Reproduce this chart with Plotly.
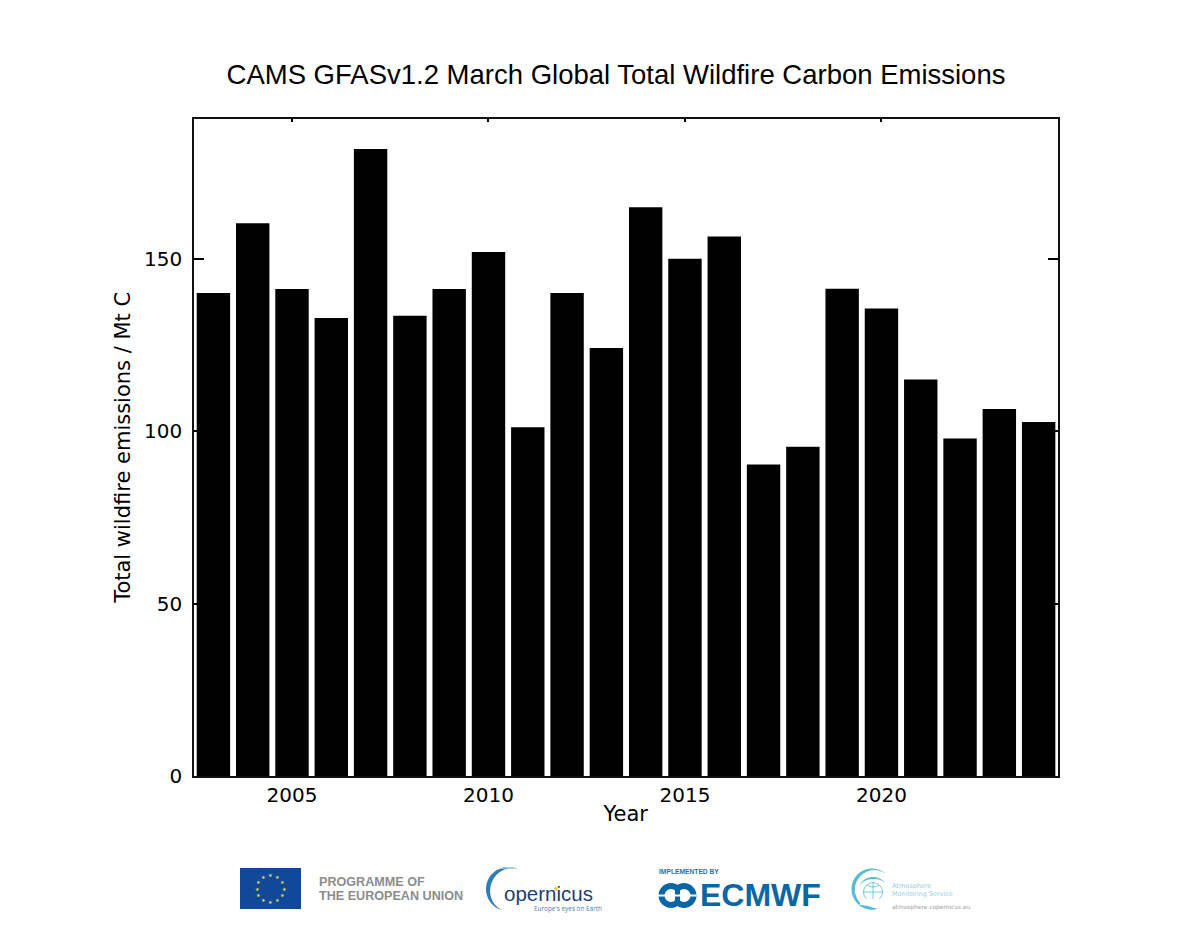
import numpy as np
import plotly.graph_objects as go

W, H = 1200, 925
years = list(range(2003, 2025))
emissions = [140.1, 160.4, 141.3, 132.9, 181.9, 133.5, 141.3, 152.0, 101.2, 140.1, 124.2,
             165.0, 150.1, 156.5, 90.4, 95.5, 141.4, 135.6, 115.0, 97.9, 106.5, 102.7]
x_ticks = [2005, 2010, 2015, 2020]
y_ticks = [0, 50, 100, 150]

fig = go.Figure()
fig.add_trace(go.Bar(x=years, y=emissions, width=0.85, marker=dict(color="black", line_width=0),
                     showlegend=False, hoverinfo="x+y"))
# invisible pixel-coordinate overlay used to place the logo strip
fig.add_trace(go.Scatter(x=[0, W], y=[0, H], xaxis="x2", yaxis="y2", mode="markers",
                         marker_opacity=0, showlegend=False, hoverinfo="skip"))

shapes, ann = [], []


def poly(pts):
    return "M" + " L".join(f"{x:.2f},{y:.2f}" for x, y in pts) + " Z"


def crescent(cx, cy, r, a0, a1, w0, w1, color):
    a = np.radians(np.linspace(a0, a1, 50))
    t = np.linspace(0, np.pi, 50)
    th = w0 + (w1 - w0) * np.sin(t) ** 1.2
    outer = [(cx + r * np.cos(v), cy - r * np.sin(v)) for v in a]
    inner = [(cx + (r - d) * np.cos(v), cy - (r - d) * np.sin(v)) for v, d in zip(a[::-1], th[::-1])]
    shapes.append(dict(type="path", path=poly(outer + inner), xref="x2", yref="y2",
                       fillcolor=color, line_width=0, layer="above"))


def rect(x0, y0, x1, y1, color):
    shapes.append(dict(type="rect", x0=x0, y0=y0, x1=x1, y1=y1, xref="x2", yref="y2",
                       fillcolor=color, line_width=0, layer="above"))


def circle(cx, cy, r, fill, line=None, lw=0):
    shapes.append(dict(type="circle", x0=cx - r, y0=cy - r, x1=cx + r, y1=cy + r, xref="x2", yref="y2",
                       fillcolor=fill, line=dict(color=line or fill, width=lw), layer="above"))


def text(x, y, s, size, color, family="Liberation Sans", bold=False):
    ann.append(dict(x=x, y=y, xref="x2", yref="y2", text=f"<b>{s}</b>" if bold else s, showarrow=False,
                    xanchor="left", yanchor="middle", align="left", borderpad=0,
                    font=dict(family=family, size=size, color=color)))


# EU flag
rect(240, 868, 301, 909, "#10499a")
for k in range(12):
    v = np.radians(30 * k)
    ann.append(dict(x=270.5 + 13.5 * np.cos(v), y=888.5 + 13.5 * np.sin(v), xref="x2", yref="y2", text="★",
                    showarrow=False, borderpad=0, font=dict(family="DejaVu Sans", size=5, color="#e8d84a")))
text(318, 882, "PROGRAMME OF", 12.6, "#8c8c8c", bold=True)
text(318, 896, "THE EUROPEAN UNION", 12.6, "#8c8c8c", bold=True)

# Copernicus
crescent(508, 889, 22, 65, 255, 0.2, 4.5, "#2f7fb5")
crescent(508, 889, 22, 65, 120, 0.2, 1.5, "#a5cde3")
text(503, 893, "opernicus", 20.5, "#1c3f72", family="Liberation Sans")
circle(556, 889, 2, "#f2d13d")
text(533, 908, "Europe's eyes on Earth", 6.4, "#3f7fb5", family="Open Sans")

# ECMWF
text(658, 871, "IMPLEMENTED BY", 6.7, "#2f6ea8", bold=True)
BL = "#0b66a6"
circle(671, 895.5, 12.5, BL)
circle(684, 895.5, 12.5, BL)
circle(671, 895.5, 6.5, "white")
circle(684, 895.5, 6.5, "white")
rect(658, 894.5, 666, 896.5, "white")
rect(689, 894.5, 696.5, 896.5, "white")
rect(675, 889, 680, 902, BL)
rect(672, 894.5, 683, 896.5, "white")
text(699, 895, "ECMWF", 32, BL, bold=True)

# Atmosphere Monitoring Service
AB = "#55bcd8"
crescent(872, 889, 20.5, 50, 285, 0.3, 3.5, AB)
crescent(873, 892, 15, 40, 150, 0.3, 2, AB)
circle(873, 892, 9.5, "rgba(0,0,0,0)", AB, 0.8)
shapes.append(dict(type="path", path="M863,892 L883,892 M873,882 L873,899 M867,885 Q873,889 879,885",
                   xref="x2", yref="y2", line=dict(color=AB, width=0.8), layer="above"))
rect(860, 899, 886, 905, "white")
crescent(872, 889, 20.5, 230, 285, 0.3, 3, AB)
text(891, 886, "Atmosphere", 6.5, "#8fd0e2", family="DejaVu Sans")
text(891, 894, "Monitoring Service", 6.5, "#8fd0e2", family="DejaVu Sans")
text(891, 907, "atmosphere.copernicus.eu", 5.9, "#a0a0a0", family="DejaVu Sans")

fig.update_layout(
    width=W, height=H, autosize=False, margin=dict(l=0, r=0, t=0, b=0),
    paper_bgcolor="white", plot_bgcolor="rgba(0,0,0,0)", bargap=0.15,
    title=dict(text="CAMS GFASv1.2 March Global Total Wildfire Carbon Emissions",
               x=616 / W, xanchor="center", y=1 - 74 / H, yanchor="middle", automargin=False,
               font=dict(family="Liberation Sans", size=27.5, color="black")),
    font=dict(family="DejaVu Sans", color="black"),
    xaxis=dict(domain=[194 / W, 1057.5 / W], range=[2002.506, 2024.48], tickmode="array", tickvals=x_ticks,
               ticks="inside", ticklen=4, tickwidth=1.5, tickcolor="black", mirror="allticks", showline=True,
               linecolor="#111111", linewidth=1.5, showgrid=False, zeroline=False, tickfont_size=20, automargin=False,
               title=dict(text="Year", font_size=21, standoff=1), anchor="y"),
    yaxis=dict(domain=[1 - 776 / H, 1 - 118.7 / H], range=[0, 190.7], tickmode="array", tickvals=y_ticks,
               ticks="inside", ticklen=10, tickwidth=1.5, tickcolor="black", mirror="allticks", showline=True,
               linecolor="#111111", linewidth=1.5, showgrid=False, zeroline=False, tickfont_size=20, automargin=False,
               ticklabelstandoff=6,
               title=dict(text="Total wildfire emissions / Mt C", font_size=21, standoff=8), anchor="x"),
    xaxis2=dict(domain=[0, 1], range=[0, W], visible=False, anchor="y2", fixedrange=True, automargin=False),
    yaxis2=dict(domain=[0, 1], range=[H, 0], visible=False, anchor="x2", fixedrange=True, automargin=False),
    shapes=shapes, annotations=ann,
)
fig.write_html("out.html", config=dict(displayModeBar=False),
               post_script="document.body.style.margin='0';")
